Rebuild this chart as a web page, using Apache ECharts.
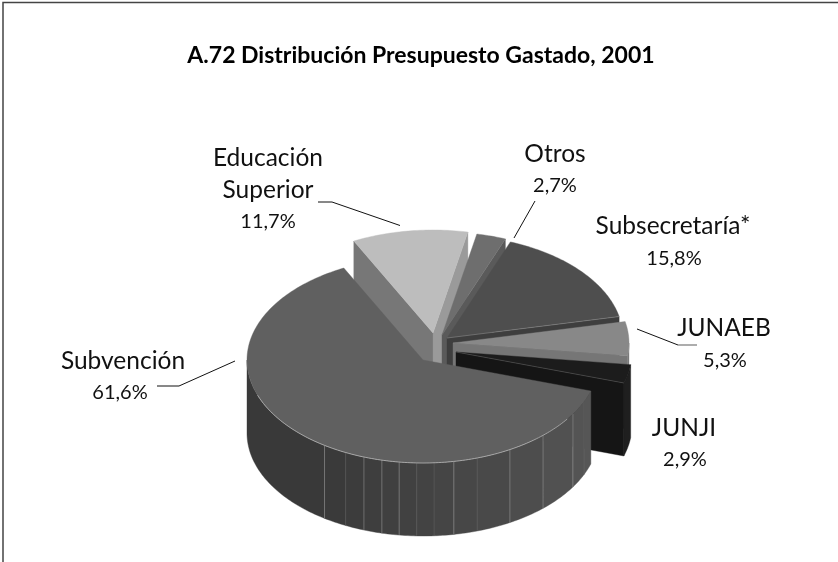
<!DOCTYPE html>
<html><head><meta charset="utf-8">
<style>html,body{margin:0;padding:0;background:#fff}#c{width:838px;height:562px}</style>
<script src="https://cdn.jsdelivr.net/npm/echarts@6/dist/echarts.min.js"></script>
</head><body><div id="c"></div>
<script>
const chartTitle = 'A.72 Distribución Presupuesto Gastado, 2001';
const categories = ['Subvención','Educación\nSuperior','Otros','Subsecretaría*','JUNAEB','JUNJI'];
const values = [61.6,11.7,2.7,15.8,5.3,2.9];

// drawing layout (not data)
const RX=176, RY=103, DEPTH=73, FIRST_ANGLE=107.5;
const centers=[[423,360],[433,333],[442,335],[447,338],[453,343],[456,352]];
const topColors=['#606060','#bdbdbd','#6e6e6e','#4e4e4e','#888888','#1c1c1c'];
const startCut=[null,'#777777',null,null,null,null];
const endCut=[null,'#9a9a9a','#5a5a5a','#3e3e3e','#767676','#151515'];
const outerColors=['#444444','#888888','#666666','#444444','#7a7a7a','#1f1f1f'];
const zOrder=[6,1,2,3,4,5];
const wallEdges=[113.8,121.6,137,150.4,162.1,169.9,176.4,182,187.8,193.5,199.6,206,214];
const strongEdges=[121.6,137,150.4,169.9,187.8,193.5,199.6,214];
const labelPos=[[123,361],[268,174],[555,154],[673,226],[724,328],[684,428]];
const valuePos=[[120,393],[268,222],[555,186],[674,259],[725,361],[685,460]];
const leaders=[
 [[157,386],[179,386],[235,361]],
 [[318,202],[332,202],[400,225.5]],
 [[535,201],[514,238]],
 [[678,345],[637,329]]
];
const grayLeaders=[[[678,345],[697,345]]];
const FONT='"Lato","Open Sans",sans-serif';

function warp(c){const d=(c-221.76)/20;return c+FIRST_ANGLE+4*Math.exp(-d*d);}
const total=values.reduce((a,b)=>a+b,0);
const bounds=[0];values.forEach(v=>bounds.push(bounds[bounds.length-1]+v/total*360));

function pt(c,deg,dy){const r=deg*Math.PI/180;return [c[0]+RX*Math.sin(r),c[1]-RY*Math.cos(r)+(dy||0)];}
function arc(c,a,b,dy){const o=[];const n=Math.max(2,Math.ceil(Math.abs(b-a)));for(let i=0;i<=n;i++)o.push(pt(c,a+(b-a)*i/n,dy));return o;}
function poly(points,fill,z){return {type:'polygon',shape:{points},style:{fill,stroke:fill,lineWidth:.4},z2:z,silent:true};}
function line(points,stroke,w,z){return {type:'polyline',shape:{points},style:{fill:null,stroke,lineWidth:w},z2:z,silent:true};}
function shade(a){const t=Math.max(0,Math.min(1,(214-a)/(214-108)));const v=Math.round(57+t*30);return 'rgb('+v+','+v+','+v+')';}

function renderItem(params,api){
  const i=params.dataIndex, c=centers[i];
  let a=warp(bounds[i]), b=warp(bounds[i+1]);
  if(a>=360){a-=360;b-=360;}
  const base=zOrder[i]*10, kids=[];
  // cut faces
  if(startCut[i]){const p=pt(c,a);kids.push(poly([c,p,[p[0],p[1]+DEPTH],[c[0],c[1]+DEPTH]],startCut[i],base));}
  if(endCut[i]){const p=pt(c,b);kids.push(poly([c,p,[p[0],p[1]+DEPTH],[c[0],c[1]+DEPTH]],endCut[i],base));}
  // outer wall : only the part facing the viewer (90..270 degrees)
  const from=Math.max(a,90), to=Math.min(b,270);
  if(to>from){
    if(i===0){
      const cuts=[from].concat(wallEdges.filter(e=>e>from&&e<to),[to]);
      for(let k=0;k<cuts.length-1;k++){
        const top=arc(c,cuts[k],cuts[k+1]);
        const bot=arc(c,cuts[k+1],cuts[k],DEPTH);
        kids.push(poly(top.concat(bot),shade((cuts[k]+cuts[k+1])/2),base+1));
      }
      wallEdges.forEach(e=>{
        const col=strongEdges.indexOf(e)>=0?'rgba(190,190,190,.55)':'rgba(150,150,150,.25)';
        kids.push(line([pt(c,e),pt(c,e,DEPTH)],col,.7,base+2));
      });
    } else {
      kids.push(poly(arc(c,from,to).concat(arc(c,to,from,DEPTH)),outerColors[i],base+1));
    }
  }
  // top face
  kids.push(poly([c].concat(arc(c,a,b)),topColors[i],base+3));
  if(i===0) kids.push(line(arc(c,125,250),'#b5b5b5',.8,base+4));
  if(i===3) kids.push(line([c,pt(c,b)],'rgba(190,190,190,.5)',.6,base+4));
  if(i===5) kids.push(line([c,pt(c,b)],'rgba(170,170,170,.45)',.6,base+4));
  // labels
  kids.push({type:'text',z2:100,silent:true,style:{text:categories[i],x:labelPos[i][0],y:labelPos[i][1],
    align:'center',verticalAlign:'middle',font:'24.5px '+FONT,fill:'#111',lineHeight:32}});
  kids.push({type:'text',z2:100,silent:true,style:{text:api.value(0).toFixed(1).replace('.',',')+'%',x:valuePos[i][0],y:valuePos[i][1],
    align:'center',verticalAlign:'middle',font:'20px '+FONT,fill:'#111'}});
  return {type:'group',children:kids};
}

const chart=echarts.init(document.getElementById('c'),null,{renderer:'canvas'});
chart.setOption({
  animation:false,
  backgroundColor:'#fff',
  title:{text:chartTitle,left:416,top:39,textAlign:'center',
    textStyle:{fontFamily:FONT,fontWeight:'bold',fontSize:23,color:'#000'}},
  graphic:[
    {type:'polyline',shape:{points:[[3,562],[3,2.5],[838,2.5]]},style:{fill:null,stroke:'#444',lineWidth:1.5},silent:true}
  ].concat(leaders.map(p=>({type:'polyline',shape:{points:p},style:{fill:null,stroke:'#111',lineWidth:1},silent:true})))
   .concat(grayLeaders.map(p=>({type:'polyline',shape:{points:p},style:{fill:null,stroke:'#777',lineWidth:1.2},silent:true}))),
  series:[{type:'custom',coordinateSystem:'none',renderItem,data:values.map(v=>[v]),silent:true,clip:false}]
});
</script></body></html>
